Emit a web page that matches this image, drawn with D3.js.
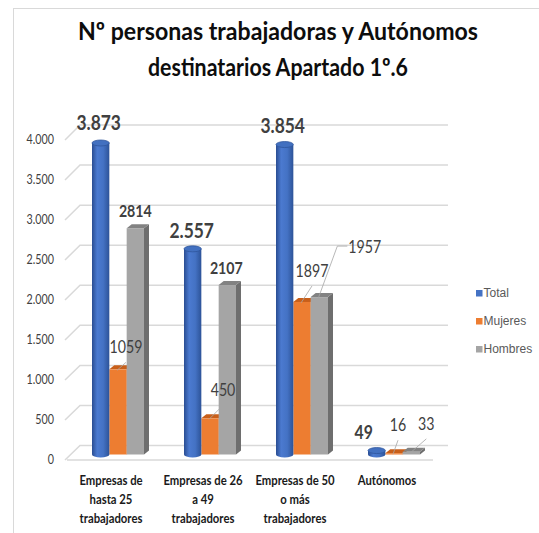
<!DOCTYPE html>
<html>
<head>
<meta charset="utf-8">
<script src="https://cdn.jsdelivr.net/npm/d3@7"></script>
<style>
  body { margin: 0; background: #fff; }
  svg text { font-family: Lato, "Open Sans", sans-serif; }
</style>
</head>
<body>
<div id="chart"></div>
<script>
// data
var categories = ["Empresas de hasta 25 trabajadores", "Empresas de 26 a 49 trabajadores", "Empresas de 50 o más trabajadores", "Autónomos"];
var categoryLines = [["Empresas de", "hasta 25", "trabajadores"], ["Empresas de 26", "a 49", "trabajadores"], ["Empresas de 50", "o más", "trabajadores"], ["Autónomos"]];
var seriesNames = ["Total", "Mujeres", "Hombres"];
var total = [3873, 2557, 3854, 49];
var mujeres = [1059, 450, 1897, 16];
var hombres = [2814, 2107, 1957, 33];
var yTicks = [0, 500, 1000, 1500, 2000, 2500, 3000, 3500, 4000];

var width = 539, height = 533;
var colours = { Total: "#4472c4", Mujeres: "#ed7d31", Hombres: "#a5a5a5" };

// label placement (dx, dy from top of bar), leader: none / line / elbow
var labelPos = {
  Total:   [[-2, -13, null], [-1, -11, null], [-2, -12, null], [-13, -12, null]],
  Mujeres: [[8, -16, "line"], [13, -22, "line"], [10, -25, "line"], [4, -22, "line"]],
  Hombres: [[0, -11, null], [-1, -11, null], [29, -44, "elbow"], [15, -22, "line"]]
};

var es = d3.formatLocale({ decimal: ",", thousands: ".", grouping: [3], currency: ["", "€"] });
var fmt = es.format(",");

// the reference text is a narrow Calibri, so squeeze Lato a bit
var squeeze = 0.86;
function narrowText(g, x, y, s) {
  return g.append("text")
    .attr("transform", "translate(" + x + "," + y + ") scale(" + (s || squeeze) + ",1)");
}

var svg = d3.select("#chart").append("svg")
  .attr("width", width).attr("height", height);

// chart border
svg.append("rect")
  .attr("x", 13.5).attr("y", 8.5).attr("width", 560).attr("height", 560)
  .attr("fill", "none").attr("stroke", "#d9d9d9");

// title
var title = svg.append("g").attr("font-weight", "bold").attr("text-anchor", "middle")
  .attr("fill", "#0d0d0d").attr("font-size", 25);
title.append("text").attr("x", 278).attr("y", 40)
  .attr("textLength", 400).attr("lengthAdjust", "spacingAndGlyphs")
  .text("Nº personas trabajadoras y Autónomos");
title.append("text").attr("x", 278).attr("y", 76)
  .attr("textLength", 260).attr("lengthAdjust", "spacingAndGlyphs")
  .text("destinatarios Apartado 1º.6");

// 3D-ish scales: front edge, back wall and the bar plane in between
var yFront = d3.scaleLinear().domain([0, 4000]).range([460, 140]);
var yBack = d3.scaleLinear().domain([0, 4000]).range([445.5, 125]);
var yBar = d3.scaleLinear().domain([0, 4000]).range([454.5, 132.8]);
var frontX = 65, backX = 80, backRight = 448, frontRight = 433;

var x = d3.scaleBand().domain(categories).range([72, 440]);
var xs = d3.scaleBand().domain(seriesNames).range([20, 72]);

// gridlines (side wall diagonal + back wall)
var grid = svg.append("g").attr("stroke", "#d9d9d9").attr("stroke-width", 1.5).attr("fill", "none");
yTicks.forEach(function(t) {
  grid.append("polyline")
    .attr("points", [[frontX, yFront(t)], [backX, yBack(t)], [backRight, yBack(t)]].join(" "));
});
grid.append("line")
  .attr("x1", frontX + 2).attr("x2", frontRight)
  .attr("y1", yFront(0)).attr("y2", yFront(0));

// y tick labels
var yAxis = svg.append("g").attr("text-anchor", "end").attr("font-size", 12.5).attr("fill", "#404040");
yTicks.forEach(function(t) {
  narrowText(yAxis, 54, yFront(t)).attr("dy", "0.35em").text(fmt(t));
});

// category labels
var cat = svg.append("g").attr("font-weight", "bold").attr("font-size", 13)
  .attr("fill", "#1a1a1a").attr("text-anchor", "middle");
categories.forEach(function(c, i) {
  categoryLines[i].forEach(function(line, j) {
    narrowText(cat, x(c) + x.bandwidth() / 2 - 7, 485 + j * 19, 0.87).text(line);
  });
});

// gradients
var defs = svg.append("defs");
var cyl = defs.append("linearGradient").attr("id", "cyl");
[["0%", "#2a4d92"], ["30%", "#4b7ad0"], ["65%", "#4472c4"], ["100%", "#2d5398"]].forEach(function(s) {
  cyl.append("stop").attr("offset", s[0]).attr("stop-color", s[1]);
});

var dx = 5, dyD = 4;
var bars = svg.append("g");
var seriesValues = { Total: total, Mujeres: mujeres, Hombres: hombres };
var tops = { Mujeres: "#c85f1a", Hombres: "#828282" };
var sides = { Mujeres: "#b55210", Hombres: "#6e6e6e" };

categories.forEach(function(c, i) {
  // boxes first, cylinder last so it sits in front
  ["Mujeres", "Hombres"].forEach(function(s) {
    var v = seriesValues[s][i];
    var x0 = x(c) + xs(s), w = xs.bandwidth();
    var yt = yBar(v), yb = yBar(0);
    var g = bars.append("g");
    g.append("polygon").attr("fill", sides[s])
      .attr("points", [[x0 + w, yt], [x0 + w + dx, yt - dyD], [x0 + w + dx, yb - dyD], [x0 + w, yb]].join(" "));
    g.append("polygon").attr("fill", tops[s])
      .attr("points", [[x0, yt], [x0 + w, yt], [x0 + w + dx, yt - dyD], [x0 + dx, yt - dyD]].join(" "));
    g.append("rect").attr("x", x0).attr("y", yt).attr("width", w).attr("height", yb - yt)
      .attr("fill", colours[s]);
  });
  var v = total[i];
  var x0 = x(c) + xs("Total"), w = xs.bandwidth();
  var yt = yBar(v), yb = yBar(0);
  var g = bars.append("g");
  g.append("ellipse").attr("cx", x0 + w / 2).attr("cy", yb).attr("rx", w / 2).attr("ry", 3)
    .attr("fill", "url(#cyl)");
  g.append("rect").attr("x", x0).attr("y", yt).attr("width", w).attr("height", yb - yt)
    .attr("fill", "url(#cyl)");
  g.append("ellipse").attr("cx", x0 + w / 2).attr("cy", yt).attr("rx", w / 2).attr("ry", 3)
    .attr("fill", "#4270c0").attr("stroke", "#2f559c").attr("stroke-width", 0.8);
});

// value labels and leader lines
var labels = svg.append("g").attr("fill", "#404040");
seriesNames.forEach(function(s) {
  seriesValues[s].forEach(function(v, i) {
    var c = categories[i];
    var cx = x(c) + xs(s) + xs.bandwidth() / 2;
    var yt = yBar(v);
    var p = labelPos[s][i];
    var lx = cx + p[0], ly = yt + p[1];
    var isTotal = s === "Total";
    var bold = isTotal || (s === "Hombres" && i < 2);
    narrowText(labels, lx, ly, isTotal ? 0.83 : 0.86)
      .attr("text-anchor", p[2] === "elbow" ? "start" : "middle")
      .attr("font-size", isTotal ? (i < 3 ? 21 : 19) : 16.5)
      .attr("font-weight", bold ? "bold" : "normal")
      .text(isTotal ? fmt(v) : v);
    if (p[2] === "line") {
      labels.append("line").attr("stroke", "#a6a6a6").attr("stroke-width", 0.8)
        .attr("x1", lx).attr("y1", ly + 9).attr("x2", cx - 1).attr("y2", yt + 1);
    } else if (p[2] === "elbow") {
      labels.append("polyline").attr("stroke", "#a6a6a6").attr("stroke-width", 0.8).attr("fill", "none")
        .attr("points", [[lx - 1, ly - 7], [lx - 11, ly - 7], [cx - 1, yt + 1]].join(" "));
    }
  });
});

// legend
var legend = svg.append("g").attr("font-size", 12).attr("fill", "#595959");
seriesNames.forEach(function(s, i) {
  var by = 297 + i * 28;
  legend.append("rect").attr("x", 476).attr("y", by - 7).attr("width", 6.5).attr("height", 6.5)
    .attr("fill", colours[s]);
  legend.append("text").attr("x", 483.5).attr("y", by)
    .style("font-family", "'Liberation Sans', Arial, sans-serif")
    .text(s);
});
</script>
</body>
</html>
